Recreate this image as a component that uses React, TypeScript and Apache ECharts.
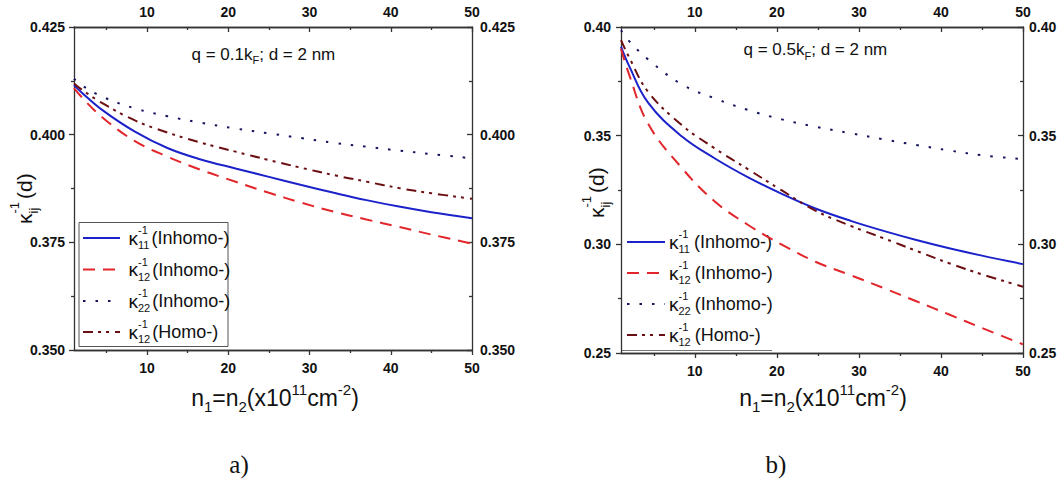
import React, { useEffect, useRef } from 'react';
import * as echarts from 'echarts';

// ---------- data ----------
const nA = [1, 2, 4.5, 8.5, 12.5, 16.5, 21, 25, 29, 33, 37, 41, 45, 50];
const aK11Inhomo = [0.4115, 0.4097, 0.4057, 0.4007, 0.3969, 0.3943, 0.3921, 0.3902, 0.3883, 0.3865, 0.3848, 0.3833, 0.382, 0.3806];
const aK12Inhomo = [0.4108, 0.4086, 0.4040, 0.3985, 0.3949, 0.3919, 0.389, 0.3865, 0.3842, 0.3821, 0.3803, 0.3786, 0.3768, 0.3747];
const aK22Inhomo = [0.413, 0.4114, 0.4088, 0.4061, 0.4043, 0.4028, 0.4014, 0.4003, 0.3992, 0.3981, 0.3972, 0.3963, 0.3955, 0.3945];
const aK12Homo = [0.4119, 0.4104, 0.4073, 0.4033, 0.4005, 0.3982, 0.396, 0.3941, 0.3923, 0.3906, 0.3891, 0.3876, 0.3864, 0.3851];

const nB = [1, 2, 4.3, 8.4, 12.4, 16.5, 20.6, 24.7, 29, 33, 37, 41, 45, 50];
const bK11Inhomo = [0.391, 0.382, 0.3652, 0.3497, 0.3396, 0.3308, 0.3232, 0.3165, 0.3108, 0.3062, 0.302, 0.2982, 0.2948, 0.2909];
const bK12Inhomo = [0.39, 0.378, 0.3555, 0.3352, 0.3198, 0.3089, 0.2999, 0.292, 0.2858, 0.2799, 0.2738, 0.2677, 0.2615, 0.254];
const bK22Inhomo = [0.3985, 0.3935, 0.3851, 0.3736, 0.3672, 0.3618, 0.3575, 0.3541, 0.3511, 0.3483, 0.3457, 0.3432, 0.341, 0.3392];
const bK12Homo = [0.394, 0.386, 0.3702, 0.3549, 0.3442, 0.3345, 0.3248, 0.3155, 0.3085, 0.3028, 0.297, 0.2913, 0.2862, 0.2805];

const xMajorTicks = [10, 20, 30, 40, 50];
const xMinorTicks = [5, 15, 25, 35, 45];
const legendSubs = ['11', '12', '22', '12'];
const legendLabels = ['(Inhomo-)', '(Inhomo-)', '(Inhomo-)', '(Homo-)'];
const panelTitles = ['q = 0.1k', 'q = 0.5k'];
const panelLetters = ['a)', 'b)'];

// ---------- styles ----------
const FONT = '"Liberation Sans", Arial, Helvetica, sans-serif';
const SERIF = '"Liberation Serif", "Times New Roman", serif';
const C_BLUE = '#1b22c9';
const C_RED = '#e2262b';
const C_NAVY = '#15155e';
const C_MAROON = '#6c0f12';
const DASH = [12, 8];
const DOT = [2.5, 10];
const DASHDOT = [10, 5, 3, 5, 3, 6];
const seriesStyles = [
  { color: C_BLUE, dash: 'solid' as any },
  { color: C_RED, dash: DASH },
  { color: C_NAVY, dash: DOT },
  { color: C_MAROON, dash: DASHDOT },
];
const AXIS = { color: '#333', width: 1.3 };

let measureCtx: CanvasRenderingContext2D | null = null;
function tw(text: string, size: number, family: string, weight = 'normal') {
  if (!measureCtx) measureCtx = document.createElement('canvas').getContext('2d');
  measureCtx!.font = `${weight} ${size}px ${family}`;
  return measureCtx!.measureText(text).width;
}

function txt(text: string, x: number, y: number, size: number, family: string, color: string, weight = 'normal') {
  return {
    type: 'text', x, y, silent: true,
    style: { text, fontSize: size, fontFamily: family, fontWeight: weight, fill: color, align: 'left', verticalAlign: 'middle' },
  };
}

function seq(parts: any[], family: string, color: string) {
  const children: any[] = [];
  let x = 0;
  for (const p of parts) {
    if (p.sup !== undefined) {
      const w = Math.max(tw(p.sup, p.s, family), tw(p.sub, p.s, family));
      children.push(txt(p.sup, x, -p.up, p.s, family, color));
      children.push(txt(p.sub, x, p.down, p.s, family, color));
      x += w + (p.gap || 0);
    } else {
      children.push(txt(p.t, x, p.dy || 0, p.s, family, color));
      x += tw(p.t, p.s, family) + (p.gap || 0);
    }
  }
  return { children, width: x };
}

function xAxes(gridIndex: number) {
  const base = {
    type: 'value', gridIndex, min: 1, max: 50,
    splitLine: { show: false },
    axisLine: { show: true, onZero: false, lineStyle: AXIS },
  };
  const label = { fontFamily: FONT, fontWeight: 'bold', fontSize: 14, color: '#111' };
  return [
    { ...base, position: 'bottom', axisTick: { show: true, customValues: xMajorTicks, length: 5, lineStyle: AXIS },
      axisLabel: { show: true, customValues: xMajorTicks, margin: 11, ...label } },
    { ...base, position: 'bottom', axisTick: { show: true, customValues: xMinorTicks, length: 3, lineStyle: AXIS },
      axisLabel: { show: false } },
    { ...base, position: 'top', axisTick: { show: true, inside: true, customValues: xMajorTicks, length: 5, lineStyle: AXIS },
      axisLabel: { show: true, customValues: xMajorTicks, margin: 8, ...label } },
    { ...base, position: 'top', axisTick: { show: true, inside: true, customValues: xMinorTicks, length: 3, lineStyle: AXIS },
      axisLabel: { show: false } },
  ];
}

function yAxes(gridIndex: number, min: number, max: number, interval: number, dec: number, lm: number, rm: number) {
  const base = {
    type: 'value', gridIndex, min, max, interval,
    splitLine: { show: false },
    axisLine: { show: true, onZero: false, lineStyle: AXIS },
    minorTick: { show: true, splitNumber: 2, length: 3, lineStyle: AXIS },
    minorSplitLine: { show: false },
  };
  const label = { fontFamily: FONT, fontWeight: 'bold', fontSize: 14, color: '#111', formatter: (v: number) => v.toFixed(dec) };
  return [
    { ...base, position: 'left', axisTick: { show: true, length: 5, lineStyle: AXIS }, axisLabel: { ...label, margin: lm } },
    { ...base, position: 'right', axisTick: { show: true, inside: true, length: 5, lineStyle: AXIS }, axisLabel: { ...label, margin: rm } },
  ];
}

function line(name: string, xs: number[], ys: number[], k: number, xi: number, yi: number) {
  return {
    type: 'line', name, xAxisIndex: xi, yAxisIndex: yi,
    data: xs.map((x, i) => [x, ys[i]]),
    showSymbol: false, symbol: 'none', smooth: 0.4, silent: true,
    lineStyle: { color: seriesStyles[k].color, width: 2, type: seriesStyles[k].dash, cap: 'butt' },
  };
}

function legendRows(lx0: number, lx1: number, kx: number, rows: number[], gap: number) {
  const out: any[] = [];
  rows.forEach((ry, k) => {
    const st = seriesStyles[k];
    out.push({
      type: 'line', silent: true,
      shape: { x1: lx0, y1: ry, x2: lx1, y2: ry },
      style: { stroke: st.color, lineWidth: 2.2, lineDash: st.dash === 'solid' ? null : st.dash },
    });
    const s = seq([
      { t: 'κ', s: 19 },
      { sup: '-1', sub: legendSubs[k], s: 11, up: 8, down: 7, gap },
      { t: legendLabels[k], s: 18 },
    ], FONT, '#111');
    out.push({ type: 'group', x: kx, y: ry, children: s.children });
  });
  return out;
}

function yTitle(x: number, y: number) {
  const s = seq([
    { t: 'κ', s: 21 },
    { sup: '-1', sub: 'ij', s: 13, up: 10, down: 9, gap: 3 },
    { t: '(d)', s: 21 },
  ], FONT, '#111');
  return { type: 'group', x, y, rotation: Math.PI / 2, children: s.children };
}

function xTitle(cx: number, cy: number) {
  const s = seq([
    { t: 'n', s: 23 },
    { t: '1', s: 15, dy: 8 },
    { t: '=n', s: 23 },
    { t: '2', s: 15, dy: 8 },
    { t: '(x10', s: 23 },
    { t: '11', s: 15, dy: -9 },
    { t: 'cm', s: 23 },
    { t: '-2', s: 15, dy: -9 },
    { t: ')', s: 23 },
  ], FONT, '#111');
  return { type: 'group', x: cx - s.width / 2, y: cy, children: s.children };
}

function panelTitle(x: number, y: number, head: string) {
  const s = seq([
    { t: head, s: 17 },
    { t: 'F', s: 11, dy: 6 },
    { t: '; d = 2 nm', s: 17 },
  ], FONT, '#111');
  return { type: 'group', x, y, children: s.children };
}

function buildOption() {
  const graphic: any[] = [
    { type: 'rect', silent: true, shape: { x: 79, y: 222.5, width: 149, height: 124 }, style: { fill: '#fff', stroke: '#555', lineWidth: 1 } },
    ...legendRows(83, 120, 128.5, [238, 269.5, 301, 332], 2),
    { type: 'line', silent: true, shape: { x1: 621, y1: 350.5, x2: 772, y2: 350.5 }, style: { stroke: '#777', lineWidth: 1 } },
    ...legendRows(627, 665, 669, [242, 273, 304, 335], 4),
    yTitle(24, 224),
    yTitle(596, 218),
    xTitle(275, 398),
    xTitle(823, 398),
    panelTitle(191.5, 54, panelTitles[0]),
    panelTitle(743.5, 49.5, panelTitles[1]),
    { type: 'text', x: 239, y: 464, silent: true, style: { text: panelLetters[0], fontSize: 25, fontFamily: SERIF, fill: '#111', align: 'center', verticalAlign: 'middle' } },
    { type: 'text', x: 776, y: 464, silent: true, style: { text: panelLetters[1], fontSize: 25, fontFamily: SERIF, fill: '#111', align: 'center', verticalAlign: 'middle' } },
  ];

  return {
    animation: false,
    backgroundColor: '#fff',
    grid: [
      { left: 74, top: 27, width: 398, height: 323 },
      { left: 621, top: 27, width: 402, height: 326 },
    ],
    xAxis: [...xAxes(0), ...xAxes(1)],
    yAxis: [
      ...yAxes(0, 0.35, 0.425, 0.025, 3, 9, 8),
      ...yAxes(1, 0.25, 0.4, 0.05, 2, 10, 6),
    ],
    series: [
      line('κ11 Inhomo a', nA, aK11Inhomo, 0, 0, 0),
      line('κ12 Inhomo a', nA, aK12Inhomo, 1, 0, 0),
      line('κ22 Inhomo a', nA, aK22Inhomo, 2, 0, 0),
      line('κ12 Homo a', nA, aK12Homo, 3, 0, 0),
      line('κ11 Inhomo b', nB, bK11Inhomo, 0, 4, 2),
      line('κ12 Inhomo b', nB, bK12Inhomo, 1, 4, 2),
      line('κ22 Inhomo b', nB, bK22Inhomo, 2, 4, 2),
      line('κ12 Homo b', nB, bK12Homo, 3, 4, 2),
    ],
    graphic,
  };
}

export default function App() {
  const ref = useRef<HTMLDivElement>(null);
  useEffect(() => {
    const chart = echarts.init(ref.current!, null, { renderer: 'svg', width: 1064, height: 481 });
    chart.setOption(buildOption() as any);
    return () => chart.dispose();
  }, []);
  return (
    <div
      ref={ref}
      style={{ position: 'fixed', left: 0, top: 0, width: 1064, height: 481, background: '#fff' }}
    />
  );
}
